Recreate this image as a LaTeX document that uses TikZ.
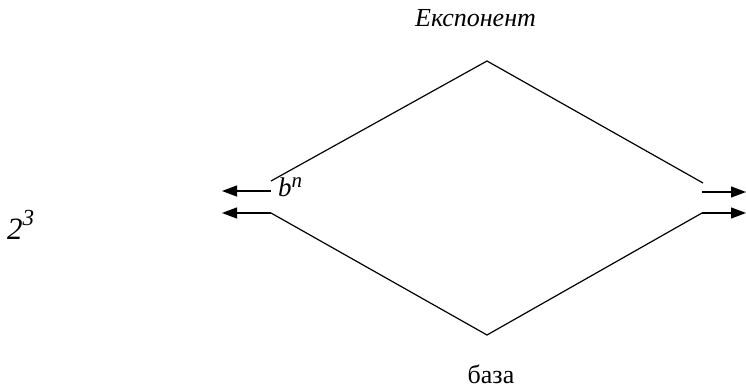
\documentclass[tikz,border=0pt]{standalone}
\usepackage{fontspec}
\setmainfont{Liberation Serif}
\usepackage{tikz}
\usetikzlibrary{arrows.meta}
\newcommand{\fsz}[1]{\fontsize{#1}{#1}\selectfont}

\begin{document}
\begin{tikzpicture}[x=1pt,y=1pt,every node/.style={font=\fsz{26},inner sep=0pt},
  edge/.style={line width=1.2pt},
  arr/.style={line width=1.2pt,-{Triangle[length=15pt,width=11pt]}}]
  \useasboundingbox (0,0) rectangle (746,390);
  % corner points of the diamond
  \coordinate (top) at (487,329);
  \coordinate (bot) at (487,55);
  \coordinate (lu) at (271,209);
  \coordinate (ll) at (271,177);
  \coordinate (ru) at (703,207);
  \coordinate (rl) at (702,177);
  % arrow stubs
  \coordinate (lua) at (271,199);
  \coordinate (lue) at (222,199);
  \coordinate (lle) at (222,177);
  \coordinate (rua) at (702,198);
  \coordinate (rue) at (746,198);
  \coordinate (rle) at (746,177);
  % diamond
  \draw[edge] (lu) -- (top) -- (ru);
  \draw[edge] (ll) -- (bot) -- (rl);
  \draw[arr] (lua) -- (lue);
  \draw[arr] (ll) -- (lle);
  \draw[arr] (rua) -- (rue);
  \draw[arr] (rl) -- (rle);
  % labels
  \node[anchor=base west] (exp) at (415,363) {\itshape Експонент};
  \node[anchor=base west] (bn) at (278,193)
    {\itshape\fsz{27}b\raisebox{9pt}{\fsz{21}n}};
  \node[anchor=base west] (ex) at (7,150)
    {\itshape\fsz{31}2\raisebox{14pt}{\fsz{23}3}};
  \node[anchor=base] (base) at (491,6) {база};
\end{tikzpicture}
\end{document}
